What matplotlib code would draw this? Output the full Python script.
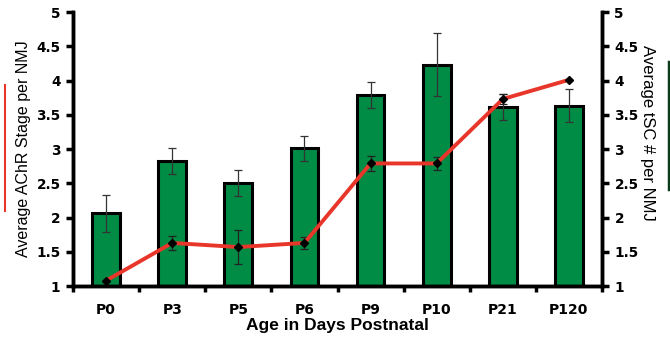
import numpy as np
import matplotlib.pyplot as plt
from matplotlib.lines import Line2D

plt.rcParams['font.family'] = ['Liberation Sans', 'DejaVu Sans']

ages = ["P0", "P3", "P5", "P6", "P9", "P10", "P21", "P120"]
achr_stage = [2.06, 2.82, 2.50, 3.01, 3.79, 4.23, 3.61, 3.63]
achr_err = [0.27, 0.19, 0.19, 0.18, 0.19, 0.46, 0.19, 0.24]
tsc_count = [1.08, 1.63, 1.57, 1.63, 2.79, 2.79, 3.73, 4.01]
tsc_err = [0.0, 0.10, 0.25, 0.09, 0.11, 0.10, 0.07, 0.0]

x = np.arange(len(ages))

fig = plt.figure(figsize=(6.7, 3.39), dpi=100)
ax = fig.add_axes([0.109, 0.156, 0.7895, 0.8086])
ax2 = ax.twinx()

ax.bar(x, [v - 1 for v in achr_stage], bottom=1, width=0.42, color="#008c45",
       edgecolor="black", linewidth=2.2, zorder=2)
ax.errorbar(x, achr_stage, yerr=achr_err, fmt="none", ecolor="#333333",
            elinewidth=0.9, capsize=3, capthick=0.9, zorder=3)

ax2.errorbar(x, tsc_count, yerr=tsc_err, fmt="none", ecolor="#222222",
             elinewidth=0.9, capsize=3, capthick=0.9, zorder=3)
ax2.plot(x, tsc_count, color="#e8362a", linewidth=2.8, marker="D",
         markersize=4.5, markerfacecolor="black", markeredgecolor="black", zorder=4)

tick_font = {"family": "DejaVu Sans", "weight": "bold", "size": 9.8}
for a in (ax, ax2):
    a.set_ylim(1, 5)
    a.set_yticks(np.arange(1, 5.01, 0.5))
    a.set_yticklabels(["1", "1.5", "2", "2.5", "3", "3.5", "4", "4.5", "5"],
                      fontdict=tick_font)
    a.spines["top"].set_visible(False)
    for s in ("left", "right", "bottom"):
        a.spines[s].set_linewidth(2.5)
    a.tick_params(axis="y", direction="out", length=5, width=2.5, pad=4)

ax.set_xlim(-0.5, 7.5)
ax.set_xticks(x)
ax.set_xticklabels(ages, fontdict={"family": "DejaVu Sans", "weight": "bold", "size": 10})
ax.set_xticks(np.arange(-0.5, 7.6, 1), minor=True)
ax.tick_params(axis="x", which="major", length=0, pad=12)
ax.tick_params(axis="x", which="minor", direction="out", length=4, width=2.5)

ax.set_ylabel("Average AChR Stage per NMJ", fontsize=11.5, labelpad=4)
ax2.set_ylabel("Average tSC # per NMJ", fontsize=12, rotation=270)
ax2.yaxis.set_label_coords(1.1, 0.56)
ax.set_xlabel("Age in Days Postnatal", fontsize=12.5, fontweight="bold", labelpad=1)

# legend swatches cut off at the edges of the original figure
fig.add_artist(Line2D([0.008, 0.008], [1 - 85 / 339, 1 - 211 / 339],
                      color="#e8362a", linewidth=1.5, transform=fig.transFigure))
fig.add_artist(Line2D([0.998, 0.998], [1 - 62 / 339, 1 - 189 / 339],
                      color="#0b3d1a", linewidth=2.5, transform=fig.transFigure))

fig.savefig("out.png", dpi=100)
